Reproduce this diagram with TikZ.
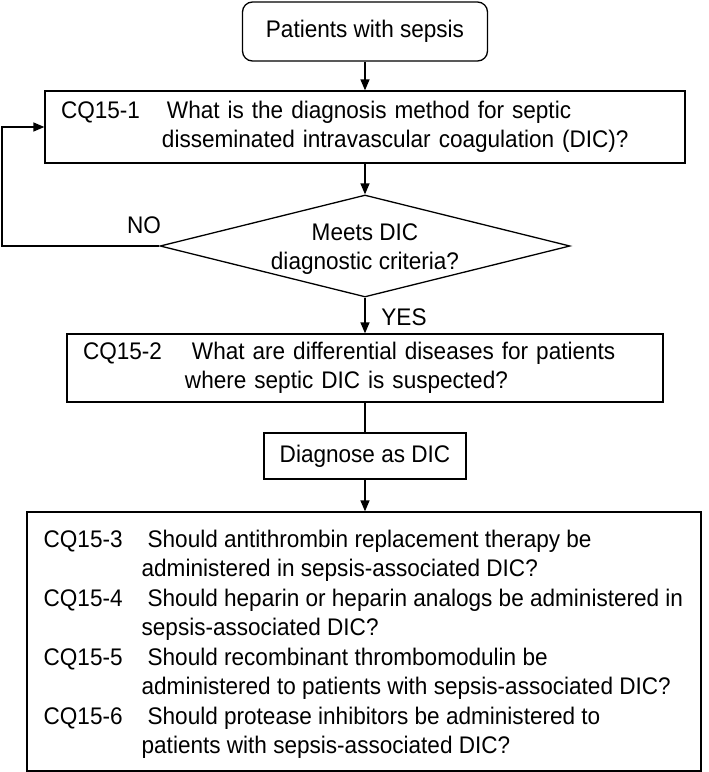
\documentclass[tikz,border=0pt]{standalone}
\usepackage{fontspec}
\setmainfont[FakeStretch=0.94]{Liberation Sans}
\usetikzlibrary{shapes.geometric,arrows.meta}
\begin{document}
\begin{tikzpicture}[x=1pt,y=-1pt,
  line width=1.3pt,
  font=\fontsize{24}{29.5}\selectfont,
  box/.style={draw, rectangle, inner ysep=0pt, align=left},
  conn/.style={-{Triangle[length=11pt,width=9pt]}},
  plain/.style={-}
]
\useasboundingbox (0,0) rectangle (709,772);
% nodes
\node[draw, rounded corners=10pt, minimum width=245pt, minimum height=59pt, inner sep=0pt] (start) at (365,31.5) {Patients with sepsis};
\node[box, inner xsep=16pt, text width=608pt, minimum height=72pt] (cq1) at (365,127) {%
\begin{tabular}{@{}p{101pt}@{}l@{}}CQ15-1&\hspace{5pt}What is the diagnosis method for septic\\
&disseminated intravascular coagulation (DIC)?\end{tabular}};
\node[draw, diamond, aspect=4, minimum width=410pt, minimum height=102pt, inner sep=0pt] (dia) at (365,246) {};
\node[align=center, inner sep=0pt] (diatext) at (365,249) {Meets DIC\\diagnostic criteria?};
\node[box, inner xsep=16pt, text width=564pt, minimum height=68pt] (cq2) at (365,368) {%
\begin{tabular}{@{}p{102pt}@{}l@{}}CQ15-2&\hspace{7pt}What are differential diseases for patients\\
&where septic DIC is suspected?\end{tabular}};
\node[draw, rectangle, minimum width=202pt, minimum height=46pt, inner sep=0pt] (diag) at (365,456) {Diagnose as DIC};
\node[draw, rectangle, minimum width=674pt, minimum height=259pt, inner sep=0pt] (cq3) at (364,641.5) {};
\node[anchor=west, inner sep=0pt, align=left] (cq3text) at (43,644.5) {%
\begin{tabular}{@{}p{98pt}@{}l@{}}CQ15-3&\hspace{6pt}Should antithrombin replacement therapy be\\
&administered in sepsis-associated DIC?\\
CQ15-4&\hspace{6pt}Should heparin or heparin analogs be administered in\\
&sepsis-associated DIC?\\
CQ15-5&\hspace{6pt}Should recombinant thrombomodulin be\\
&administered to patients with sepsis-associated DIC?\\
CQ15-6&\hspace{6pt}Should protease inhibitors be administered to\\
&patients with sepsis-associated DIC?\end{tabular}};
\node (no) at (144,225) {NO};
\node (yes) at (404,317) {YES};
\coordinate (loopc) at (2,246);
% connectors
\draw[conn] (start.south) -- (cq1.north);
\draw[conn] (cq1.south) -- (dia.north);
\draw[conn] (dia.south) -- (cq2.north);
\draw[plain] (cq2.south) -- (diag.north);
\draw[conn] (diag.south) -- (cq3.north -| diag.south);
\draw[conn] (dia.west) -- (loopc) |- (cq1.west);
\end{tikzpicture}
\end{document}
